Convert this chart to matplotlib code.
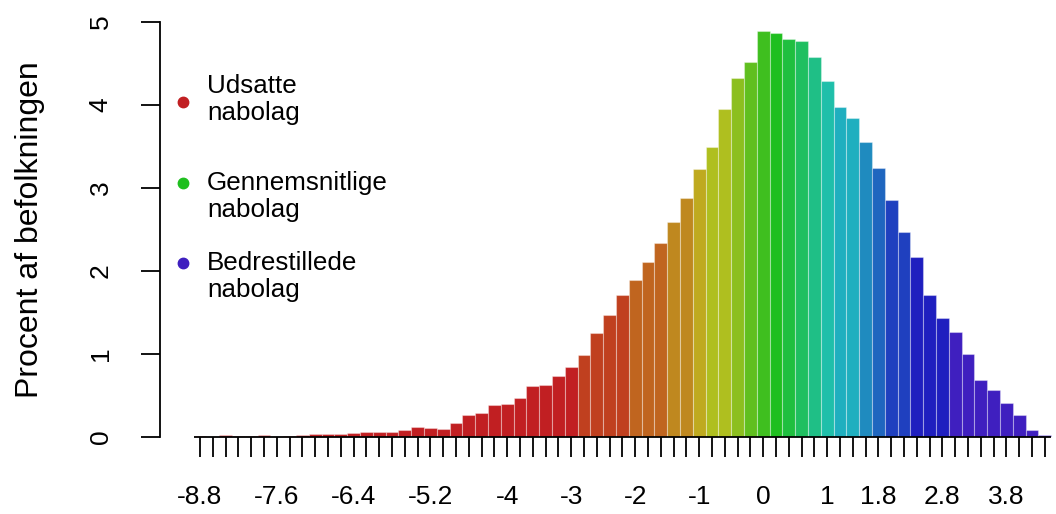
import matplotlib
matplotlib.use("Agg")
import matplotlib.pyplot as plt
import numpy as np

# ====== Data ======
bin_width = 0.2
bin_centers = np.round(np.arange(-8.8, 4.4 + 1e-9, bin_width), 1)

percent = [
    0.01, 0.0, 0.02, 0.015, 0.015, 0.02, 0.005, 0.01, 0.025, 0.04,
    0.04, 0.035, 0.045, 0.06, 0.06, 0.06, 0.09, 0.12, 0.11, 0.10,
    0.17, 0.26, 0.29, 0.38, 0.40, 0.47, 0.61, 0.63, 0.74, 0.84,
    0.99, 1.25, 1.47, 1.71,
    1.89, 2.11, 2.34, 2.59, 2.88, 3.23, 3.49, 3.95, 4.33, 4.52,
    4.89, 4.87, 4.80, 4.77,
    4.58, 4.29, 3.97, 3.84, 3.56, 3.24, 2.86, 2.47, 2.17, 1.71,
    1.43, 1.27, 1.00, 0.69, 0.57, 0.41, 0.27, 0.09, 0.03,
]

tick_labels = [-8.8, -7.6, -6.4, -5.2, -4, -3, -2, -1, 0, 1, 1.8, 2.8, 3.8]

# colour per run of bars (hue ramp red -> green -> blue/purple)
group_colors = [
    "#C11F22", "#C0401F", "#C0651F", "#BF881F", "#BFAA1F", "#AFBF1F",
    "#8CBF1F", "#60BF1F", "#3FBF1F", "#1FBF1F", "#1FBF3F", "#1FBF60",
    "#1FBF86", "#1FBFAA", "#1FAFBF", "#1F8BBF", "#1F66BF", "#1F40BF",
    "#1F1FBF", "#3F1FBF",
]
group_sizes = [30, 4, 3, 2, 1, 2, 1, 1, 1, 1, 1, 1, 1, 1, 2, 1, 1, 2, 3, 8]

legend_labels = ["Udsatte\nnabolag", "Gennemsnitlige\nnabolag", "Bedrestillede\nnabolag"]
legend_colors = ["#C11F22", "#1FBF1F", "#3F1FBF"]

bar_colors = []
for c, n in zip(group_colors, group_sizes):
    bar_colors += [c] * n

# ====== Plot ======
plt.rcParams["font.family"] = ["Liberation Sans", "DejaVu Sans"]
W, H = 1056, 514
fig = plt.figure(figsize=(W / 100, H / 100), dpi=100)
ax = fig.add_axes([160 / W, 77 / H, 1 - 160 / W, 415 / H])

ax.bar(bin_centers, percent, width=bin_width, color=bar_colors,
       edgecolor=(1, 1, 1, 0.35), linewidth=0.8, zorder=2)
ax.hlines(0, bin_centers[0] - bin_width / 2, bin_centers[-1] + bin_width / 2,
          color="black", linewidth=1.3, zorder=3, clip_on=False)

ax.set_xlim(-9.425, 4.575)
ax.set_ylim(0, 5)

for s in ["top", "right", "bottom"]:
    ax.spines[s].set_visible(False)
ax.spines["left"].set_linewidth(1.3)

ax.set_xticks(bin_centers)
lab = {round(v, 1): ("%g" % v) for v in tick_labels}
ax.set_xticklabels([lab.get(round(v, 1), "") for v in bin_centers], fontsize=19)
ax.tick_params(axis="x", length=14.4, width=1.3, pad=20)

ax.set_yticks([0, 1, 2, 3, 4, 5])
ax.set_yticklabels(["0", "1", "2", "3", "4", "5"], fontsize=19, rotation=90, va="center")
ax.tick_params(axis="y", length=14, width=1.3, pad=20)

fig.text(30 / W, 1 - 230 / H, "Procent af befolkningen", rotation=90,
         fontsize=23, ha="center", va="center")

# legend
dot_y = [102, 183, 263]
text_y = [88, 185, 265]
for lbl, col, dy, ty in zip(legend_labels, legend_colors, dot_y, text_y):
    fig.add_artist(plt.Line2D([183 / W], [1 - dy / H], marker="o", markersize=7.5,
                              color=col, linestyle="none", transform=fig.transFigure))
    fig.text(207 / W, 1 - (ty - 14) / H, lbl, fontsize=18.7, ha="left", va="top",
             linespacing=1.15)

fig.savefig("out.png", dpi=100)
